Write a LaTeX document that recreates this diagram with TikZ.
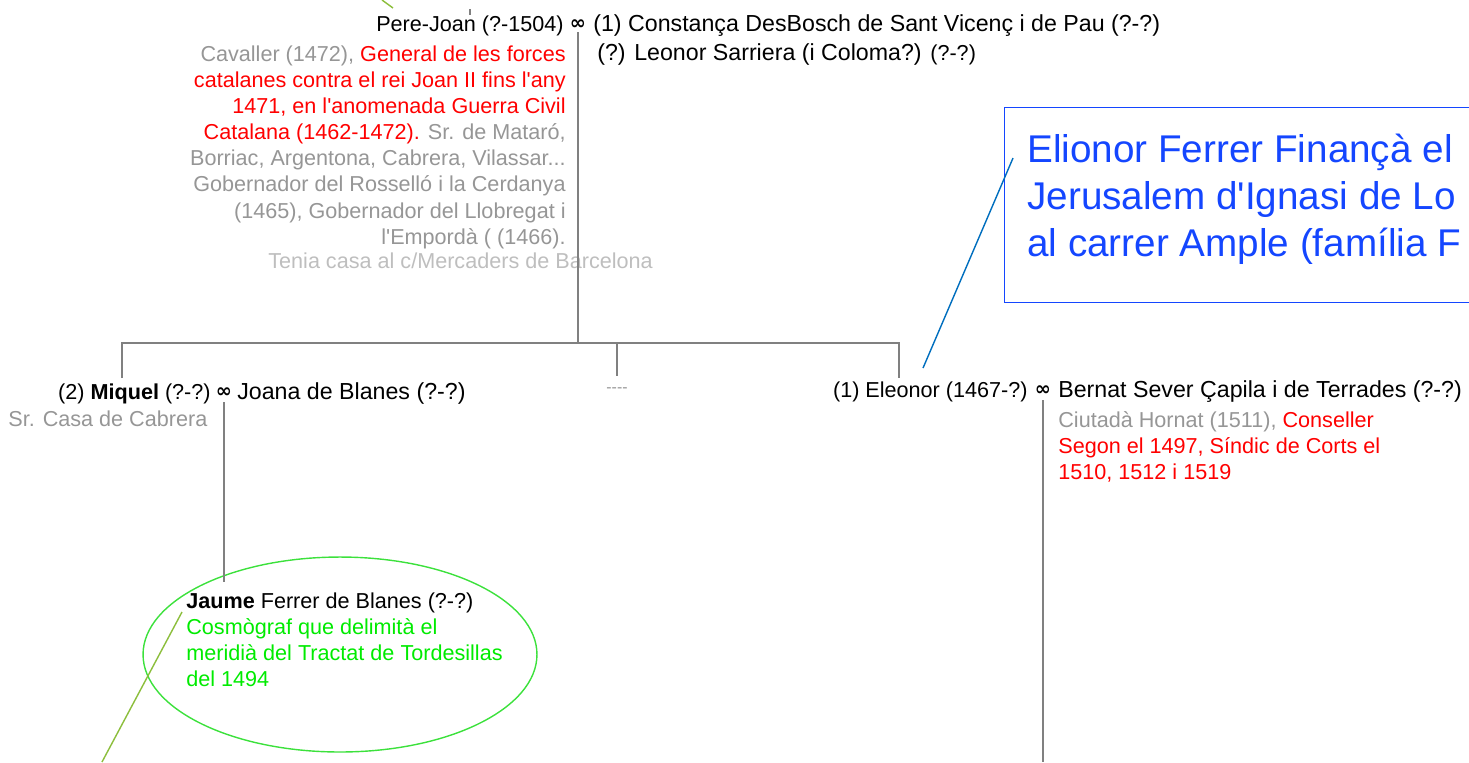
\documentclass[tikz,border=0pt]{standalone}
\usepackage{fontspec}
\setmainfont{Liberation Sans}
\newfontfamily\symfont{DejaVu Sans}
\usetikzlibrary{shapes.geometric, positioning}

\definecolor{notegray}{RGB}{150,150,150}
\definecolor{palegray}{RGB}{190,190,190}
\definecolor{notered}{RGB}{255,0,0}
\definecolor{notegreen}{RGB}{0,235,0}
\definecolor{ringgreen}{RGB}{60,225,60}
\definecolor{leadolive}{RGB}{140,190,60}
\definecolor{noteblue}{RGB}{20,70,255}
\definecolor{leadblue}{RGB}{0,110,190}
\definecolor{linegray}{RGB}{128,128,128}

\newcommand{\namefont}{\fontsize{13.2}{15}\selectfont}
\newcommand{\smallfont}{\fontsize{12.3}{14.85}\selectfont}
\newcommand{\bignotefont}{\fontsize{22}{26.6}\selectfont}
\newcommand{\gr}[1]{{\color{notegray}#1}}
\newcommand{\rd}[1]{{\color{notered}#1}}
\newcommand{\ap}{\textquotesingle}

\begin{document}
\begin{tikzpicture}[
    x=0.02cm, y=-0.02cm,
    person/.style={inner sep=0, font=\namefont},
    child/.style={inner sep=0, font=\smallfont},
    wed/.style={inner sep=0, font=\symfont\bfseries\fontsize{11}{12}\selectfont},
    note/.style={inner sep=0, font=\smallfont, text=notegray, align=left},
    famline/.style={draw=linegray, line width=0.75pt},
    blueframe/.style={draw=noteblue, line width=0.8pt, rectangle, inner sep=0},
    ring/.style={draw=ringgreen, line width=0.8pt, ellipse, inner sep=0}
]
    \useasboundingbox (0,0) rectangle (1469,762);
    \clip (0,0) rectangle (1469,762);

    % PERE-JOAN AND HIS WIVES
    \node (pere) [child, anchor=base east] at (564,31) {Pere-Joan (?-1504)};
    \node (m1) [wed, anchor=base] at (578,29) {∞};
    \node (constanca) [person, anchor=base west] at (593,31) {(1) Constança DesBosch de Sant Vicenç i de Pau (?-?)};
    \node (leonor) [person, anchor=base west] at (597,60) {(?) Leonor Sarriera (i Coloma?) {\smallfont(?-?)}};
    \node (perenote) [note, align=right, anchor=north east] at (566,45.5) {%
        \gr{Cavaller (1472),} \rd{General de les forces}\\
        \rd{catalanes contra el rei Joan II fins l\ap any}\\
        \rd{1471, en l\ap anomenada Guerra Civil}\\
        \rd{Catalana (1462-1472).} \gr{Sr. de Mataró,}\\
        Borriac, Argentona, Cabrera, Vilassar...\\
        Gobernador del Rosselló i la Cerdanya\\
        (1465), Gobernador del Llobregat i\\
        l\ap Empordà ( (1466).};
    \node (tenia) [note, text=palegray, anchor=base west] at (268,268.5) {Tenia casa al c/Mercaders de Barcelona};

    % CHILDREN
    \node (miquel) [child, anchor=base east] at (211,399) {(2) \textbf{Miquel} (?-?)};
    \node (m2) [wed, anchor=base] at (224,397) {∞};
    \node (joana) [person, anchor=base west] at (237,399) {Joana de Blanes (?-?)};
    \node (cabrera) [note, anchor=base west] at (8,426) {Sr. Casa de Cabrera};
    \node (dots) [child, text=notegray, font=\fontsize{9}{10}\selectfont, anchor=base] at (617,392) {{-}{-}{-}{-}};
    \node (eleonor) [child, anchor=base east] at (1028,397) {(1) Eleonor (1467-?)};
    \node (m3) [wed, anchor=base] at (1043,395) {∞};
    \node (bernat) [person, anchor=base west] at (1058,397) {Bernat Sever Çapila i de Terrades (?-?)};
    \node (bernatnote) [note, anchor=north west] at (1058,411) {%
        \gr{Ciutadà Hornat (1511),} \rd{Conseller}\\
        \rd{Segon el 1497, Síndic de Corts el}\\
        \rd{1510, 1512 i 1519}};

    % GRANDCHILD
    \node (ring) [ring, minimum width=7.88cm, minimum height=3.9cm] at (340,654.5) {};
    \node (jaume) [child, anchor=base west] at (186,608) {\textbf{Jaume} Ferrer de Blanes (?-?)};
    \node (jaumenote) [note, text=notegreen, anchor=north west] at (186,618) {%
        Cosmògraf que delimità el\\
        meridià del Tractat de Tordesillas\\
        del 1494};

    % BLUE NOTE
    \node (bluebox) [blueframe, anchor=north west, minimum width=12cm, minimum height=3.9cm] at (1004,107) {};
    \node (bluetext) [inner sep=0, font=\bignotefont, text=noteblue, align=left, anchor=north west] at (1027,134) {%
        Elionor Ferrer Finançà el\\
        Jerusalem d\ap Ignasi de Lo\\
        al carrer Ample (família F};

    % FAMILY LINES
    \coordinate (pereup) at (470,9);
    \coordinate (bar) at (578,343);
    \coordinate (kidL) at (122,378);
    \coordinate (kidM) at (617,376);
    \coordinate (kidR) at (899,378);
    \coordinate (jaumetop) at (224,582);
    \coordinate (eldown) at (1043,762);
    \draw [famline] (pereup) -- (pereup |- pere.north);
    \draw [famline] (m1.south) ++(0,3) -- (bar);
    \draw [famline] (kidL) -- (kidL |- bar) -- (kidR |- bar) -- (kidR);
    \draw [famline] (kidM |- bar) -- (kidM);
    \draw [famline] (m2.south) ++(0,5) -- (jaumetop);
    \draw [famline] (m3.south) ++(0,5) -- (eldown);

    % NOTE LEADERS
    \coordinate (topleadA) at (382,0);
    \coordinate (topleadB) at (393,8);
    \coordinate (eleonortip) at (923,368);
    \coordinate (bluetip) at (1013,158);
    \coordinate (jaumetip) at (182,612);
    \coordinate (jaumeoff) at (102,762);
    \draw [draw=leadolive, line width=0.8pt] (topleadA) -- (topleadB);
    \draw [draw=leadblue, line width=0.8pt] (eleonortip) -- (bluetip);
    \draw [draw=leadolive, line width=0.8pt] (jaumetip) -- (jaumeoff);

\end{tikzpicture}
\end{document}
